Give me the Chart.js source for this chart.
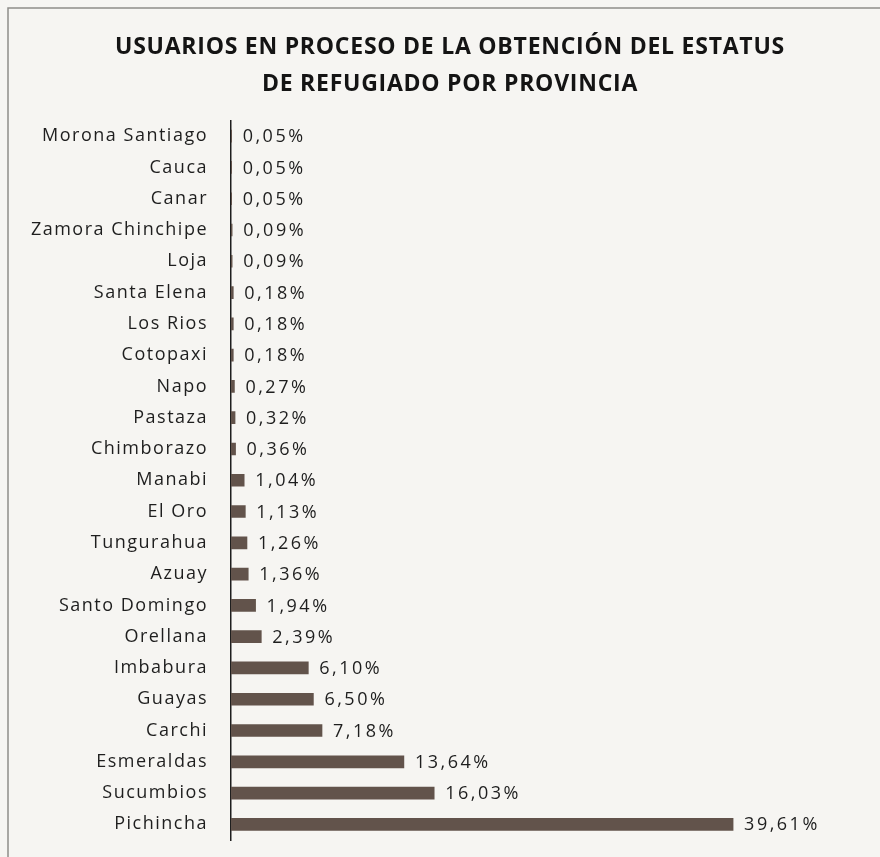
<!DOCTYPE html>
<html>
<head>
<meta charset="utf-8">
<script src="https://cdn.jsdelivr.net/npm/chart.js@4"></script>
<style>
	html, body { margin: 0; padding: 0; background: #f6f5f2; overflow: hidden; }
	canvas { display: block; }
</style>
</head>
<body>
<canvas id="myChart" width="880" height="857"></canvas>
<script>
const provincias = [
	"Morona Santiago", "Cauca", "Canar", "Zamora Chinchipe", "Loja", "Santa Elena",
	"Los Rios", "Cotopaxi", "Napo", "Pastaza", "Chimborazo", "Manabi", "El Oro",
	"Tungurahua", "Azuay", "Santo Domingo", "Orellana", "Imbabura", "Guayas",
	"Carchi", "Esmeraldas", "Sucumbios", "Pichincha"
];
const porcentajes = [
	0.05, 0.05, 0.05, 0.09, 0.09, 0.18,
	0.18, 0.18, 0.27, 0.32, 0.36, 1.04, 1.13,
	1.26, 1.36, 1.94, 2.39, 6.10, 6.50,
	7.18, 13.64, 16.03, 39.61
];
const titulo = [
	"USUARIOS EN PROCESO DE LA OBTENCIÓN DEL ESTATUS",
	"DE REFUGIADO POR PROVINCIA"
];

const fontFamily = "'Open Sans', 'DejaVu Sans', sans-serif";

// paper background + frame lines of the scan
const fondo = {
	id: "fondo",
	afterLayout(chart) {
		// title gets tighter spacing than the axis labels
		const tb = chart.titleBlock;
		if (tb && !tb._spaced) {
			const orig = tb.draw.bind(tb);
			tb.draw = function (area) {
				const c = chart.ctx;
				const prev = c.letterSpacing;
				c.letterSpacing = "0.75px";
				orig(area);
				c.letterSpacing = prev;
			};
			tb._spaced = true;
		}
	},
	beforeDraw(chart) {
		const c = chart.ctx;
		c.save();
		c.fillStyle = "#f6f5f2";
		c.fillRect(0, 0, chart.width, chart.height);
		c.strokeStyle = "#8f8d89";
		c.lineWidth = 1.5;
		c.beginPath();
		c.moveTo(880, 8);
		c.lineTo(8, 8);
		c.lineTo(8, chart.height);
		c.stroke();
		c.restore();
		// the scanned labels are loosely spaced
		c.letterSpacing = "1.5px";
	},
};

// value labels at the end of each bar
const etiquetas = {
	id: "etiquetas",
	afterDatasetsDraw(chart) {
		const c = chart.ctx;
		const meta = chart.getDatasetMeta(0);
		c.save();
		c.font = "18px " + fontFamily;
		c.letterSpacing = "2.5px";
		c.fillStyle = "#1e1e1e";
		c.textBaseline = "middle";
		c.textAlign = "left";
		meta.data.forEach((bar, i) => {
			const txt = porcentajes[i].toFixed(2).replace(".", ",") + "%";
			c.fillText(txt, bar.x + 11, bar.y + 1);
		});
		c.restore();
	},
};

const ctx = document.getElementById("myChart");

const myChart = new Chart(ctx, {
	type: "bar",
	data: {
		labels: provincias,
		datasets: [
			{
				data: porcentajes,
				backgroundColor: "#62534b",
				borderWidth: 0,
				barThickness: 12,
			},
		],
	},
	options: {
		indexAxis: "y",
		responsive: false,
		animation: false,
		layout: {
			padding: { left: 20, right: 0, top: 0, bottom: 17 },
		},
		scales: {
			x: {
				display: false,
				min: 0,
				max: 51.2,
			},
			y: {
				afterFit: function (scale) {
					scale.width = 211;
					scale.paddingTop = 0;
					scale.paddingBottom = 0;
				},
				grid: { display: false, drawTicks: false },
				border: { display: true, color: "#1e1e1e", width: 1.5 },
				ticks: {
					padding: 23,
					color: "#1e1e1e",
					font: { family: fontFamily, size: 18 },
				},
			},
		},
		plugins: {
			legend: { display: false },
			tooltip: { enabled: false },
			title: {
				display: true,
				text: titulo,
				color: "#141414",
				font: { family: fontFamily, size: 23, weight: "bold", lineHeight: 1.62 },
				padding: { top: 29, bottom: 17 },
			},
		},
	},
	plugins: [fondo, etiquetas],
});
</script>
</body>
</html>
